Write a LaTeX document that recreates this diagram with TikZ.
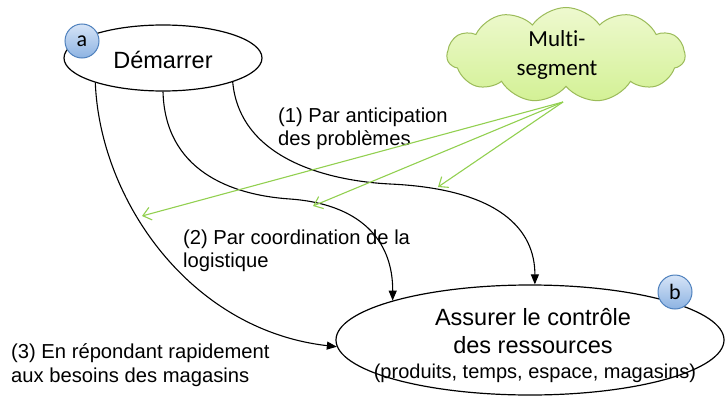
\documentclass[tikz,border=0pt]{standalone}
\usepackage{fontspec}
\setmainfont{Liberation Sans}
\newfontfamily\calib[Ligatures=NoCommon,Contextuals=NoAlternate]{Carlito}
\usetikzlibrary{shapes.geometric,shapes.symbols,arrows.meta}
\definecolor{cloudtop}{HTML}{EEF9CF}
\definecolor{cloudbot}{HTML}{D3F195}
\definecolor{cloudline}{HTML}{9BBB59}
\definecolor{garrowcol}{HTML}{92D050}
\definecolor{badgetop}{HTML}{D6E4F7}
\definecolor{badgebot}{HTML}{8DB3E2}
\definecolor{badgeline}{HTML}{4F81BD}
\tikzset{
  oval/.style={ellipse, draw=black, line width=1.2pt, fill=white, inner sep=0pt},
  badge/.style={circle, draw=badgeline, line width=1pt, top color=badgetop, bottom color=badgebot,
    minimum size=34pt, inner sep=0pt, font=\calib\fontsize{22}{24}\selectfont},
  bigtxt/.style={anchor=base, inner sep=0pt, font=\fontsize{23.5}{28}\selectfont},
  smalltxt/.style={anchor=base, inner sep=0pt, font=\fontsize{20}{24}\selectfont},
  labtxt/.style={anchor=base west, inner sep=0pt, font=\fontsize{20.2}{24}\selectfont},
  cloudtxt/.style={anchor=base, inner sep=0pt, font=\calib\fontsize{23}{28}\selectfont},
  flow/.style={draw=black, line width=1.1pt, -{Triangle[length=10pt,width=8pt]}},
  garrow/.style={draw=garrowcol, line width=1.1pt, -{Straight Barb[length=8pt,width=13pt]}}
}
\begin{document}
\begin{tikzpicture}[x=1pt,y=-1pt]
\useasboundingbox (0,0) rectangle (725,396);

% start ellipse
\node[oval, minimum width=198pt, minimum height=66pt] (d) at (163,58) {};
\node[bigtxt] (dtxt) at (163,68) {Démarrer};
\node[badge] (ba) at (82,41) {a};

% cloud
\node[cloud, cloud puffs=11, cloud puff arc=110, aspect=2.5, minimum width=238pt, minimum height=95pt,
  draw=cloudline, line width=1pt, top color=cloudtop, bottom color=cloudbot, inner sep=0pt] (c) at (566,55) {};
\node[cloudtxt] (ct1) at (557,47) {Mult\kern0pt i-};
\node[cloudtxt] (ct2) at (557,75) {segment};

% target ellipse
\node[oval, minimum width=388pt, minimum height=110pt] (b) at (530,340) {};
\node[bigtxt] (bt1) at (533,325) {Assurer le contrôle};
\node[bigtxt] (bt2) at (533,353) {des ressources};
\node[smalltxt] (bt3) at (535,378) {(produits, temps, espace, magasins)};
\node[badge] (bb) at (675,292) {b};

% labels
\node[labtxt] (l1a) at (278,122) {(1) Par anticipation};
\node[labtxt] (l1b) at (278,145) {des problèmes};
\node[labtxt] (l2a) at (183,244) {(2) Par coordination de la};
\node[labtxt] (l2b) at (183,267) {logistique};
\node[labtxt] (l3a) at (11,358) {(3) En répondant rapidement};
\node[labtxt] (l3b) at (11,382) {aux besoins des magasins};

% black flows
\draw[flow] (d.341) .. controls (240,160) and (330,181) .. (390,184)
  .. controls (500,189) and (535,230) .. (b.85);
\draw[flow] (d.south) .. controls (165,170) and (230,195) .. (290,199)
  .. controls (360,204) and (393,240) .. (b.164);
\draw[flow] (d.200) .. controls (100,200) and (190,330) .. (b.182);

% green arrows
\coordinate (src) at (563,102);
\coordinate (g1) at (142,216);
\coordinate (g2) at (313,206);
\coordinate (g3) at (438,187);
\draw[garrow] (src) -- (g1);
\draw[garrow] (src) -- (g2);
\draw[garrow] (src) -- (g3);
\end{tikzpicture}
\end{document}
